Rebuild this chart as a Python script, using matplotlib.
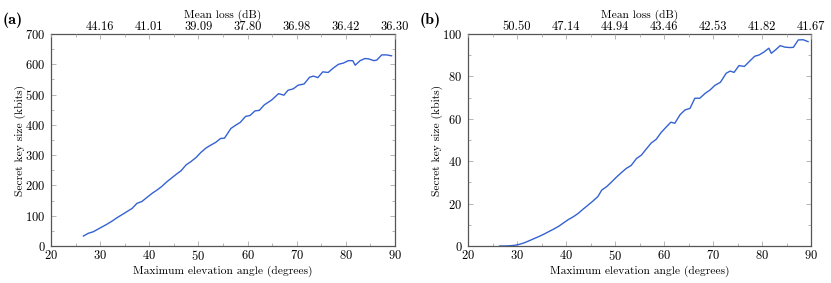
import matplotlib
matplotlib.use("Agg")
import matplotlib.pyplot as plt
from matplotlib.ticker import MultipleLocator

plt.rcParams['font.family'] = ['cmr10', 'DejaVu Serif']
plt.rcParams['axes.formatter.use_mathtext'] = True
plt.rcParams['font.size'] = 9

# elevation angle (deg) / secret key size (kbits), panel (a)
elev_a = [26.6, 27.6, 28.6, 29.6, 30.5, 31.4, 32.5, 33.5, 34.5, 35.5, 36.5, 37.5,
          38.5, 39.5, 40.5, 41.5, 42.5, 43.5, 44.5, 45.5, 46.5, 47.5, 48.5, 49.5,
          50.5, 51.5, 52.5, 53.5, 54.5, 55.3, 56.6, 57.5, 58.5, 59.6, 60.5, 61.5,
          62.4, 63.4, 64.9, 66.3, 67.4, 68.2, 69.3, 70.3, 71.5, 72.6, 73.4, 74.3,
          75.3, 76.4, 77.4, 78.5, 79.5, 80.5, 81.4, 81.9, 82.9, 83.9, 84.6, 85.7,
          86.3, 87.3, 88.3, 89.3]
key_a = [33, 42, 47, 56, 64, 72, 83, 94, 104, 114, 124, 141,
         147, 160, 173, 184, 196, 211, 224, 237, 249, 268, 279, 292,
         309, 323, 333, 342, 355, 356, 388, 398, 408, 428, 431, 446,
         448, 466, 482, 503, 498, 514, 519, 531, 535, 557, 561, 556,
         575, 573, 587, 600, 604, 612, 612, 597, 612, 619, 618, 612,
         614, 631, 631, 628]

# panel (b)
elev_b = [26.5, 27.5, 28.5, 29.5, 30.5, 31.5, 32.5, 33.5, 34.5, 35.5, 36.5, 37.5,
          38.5, 39.5, 40.5, 41.5, 42.5, 43.5, 44.5, 45.5, 46.5, 47.3, 48.3, 49.3,
          50.3, 51.3, 52.3, 53.3, 54.4, 55.4, 56.4, 57.4, 58.4, 59.4, 60.4, 61.4,
          62.2, 63.3, 64.3, 65.3, 66.3, 67.3, 68.4, 69.4, 70.4, 71.5, 72.7, 73.5,
          74.3, 75.3, 76.4, 77.4, 78.5, 79.4, 80.4, 81.4, 81.9, 82.8, 83.7, 84.7,
          85.7, 86.4, 87.4, 88.4, 89.4]
key_b = [0, 0, 0.1, 0.3, 0.8, 1.5, 2.5, 3.5, 4.5, 5.6, 6.8, 8.0,
         9.3, 10.9, 12.5, 13.8, 15.4, 17.4, 19.3, 21.2, 23.3, 26.4, 28.0, 30.2,
         32.5, 34.6, 36.6, 38.0, 41.3, 42.9, 45.8, 48.6, 50.3, 53.5, 56.0, 58.4,
         57.9, 62.0, 64.2, 64.9, 69.7, 69.7, 72.0, 73.6, 75.8, 77.2, 81.5, 82.5,
         81.9, 85.1, 84.7, 87.0, 89.5, 90.1, 91.5, 93.3, 90.9, 92.6, 94.5, 93.8,
         93.6, 93.7, 97.2, 97.3, 96.4]

top_ticks = [30, 40, 50, 60, 70, 80, 90]
loss_a = ['44.16', '41.01', '39.09', '37.80', '36.98', '36.42', '36.30']
loss_b = ['50.50', '47.14', '44.94', '43.46', '42.53', '41.82', '41.67']

line_color = '#3462d2'
spine_color = '#555555'
tick_color = '#aaaaaa'
label_size = 8.3

fig = plt.figure(figsize=(8.31, 2.83), dpi=100)
ax_a = fig.add_axes([51/831, 37/283, 344/831, 212/283])
ax_b = fig.add_axes([468/831, 37/283, 343/831, 212/283])

panels = [
    (ax_a, elev_a, key_a, loss_a, 700, 100, 50, '(a)'),
    (ax_b, elev_b, key_b, loss_b, 100, 20, 10, '(b)'),
]

for ax, x, y, loss, ymax, ymaj, ymin, tag in panels:
    ax.plot(x, y, color=line_color, lw=1.0)
    ax.set_xlim(20, 90)
    ax.set_ylim(0, ymax)
    ax.xaxis.set_major_locator(MultipleLocator(10))
    ax.xaxis.set_minor_locator(MultipleLocator(5))
    ax.yaxis.set_major_locator(MultipleLocator(ymaj))
    ax.yaxis.set_minor_locator(MultipleLocator(ymin))
    ax.tick_params(which='both', direction='in', color=tick_color, right=True)
    ax.tick_params(axis='y', labelsize=9, pad=4)
    ax.tick_params(axis='x', labelsize=9, pad=2)
    ax.tick_params(which='major', length=3.5, width=0.6)
    ax.tick_params(which='minor', length=2, width=0.6)
    for s in ax.spines.values():
        s.set_color(spine_color)
        s.set_linewidth(0.9)
    ax.set_xlabel('Maximum elevation angle (degrees)', fontsize=label_size, labelpad=2)
    ax.set_ylabel('Secret key size (kbits)', fontsize=label_size)
    ax.yaxis.set_label_coords(-0.072, 0.5)

    top = ax.twiny()
    top.set_xlim(20, 90)
    top.set_xticks(top_ticks)
    top.set_xticklabels(loss)
    top.xaxis.set_minor_locator(MultipleLocator(5))
    top.tick_params(which='both', direction='in', color=tick_color,
                    labelsize=9, pad=1)
    top.tick_params(which='major', length=3.5, width=0.6)
    top.tick_params(which='minor', length=2, width=0.6)
    for s in top.spines.values():
        s.set_visible(False)
    top.set_xlabel('Mean loss (dB)', fontsize=label_size, labelpad=2)

    pos = ax.get_position()
    fig.text(pos.x0 - 48/831, 1 - 20/283, tag, fontsize=11.5,
             family=['cmb10', 'DejaVu Serif'], va='center', ha='left')

fig.savefig('out.png', dpi=100)
